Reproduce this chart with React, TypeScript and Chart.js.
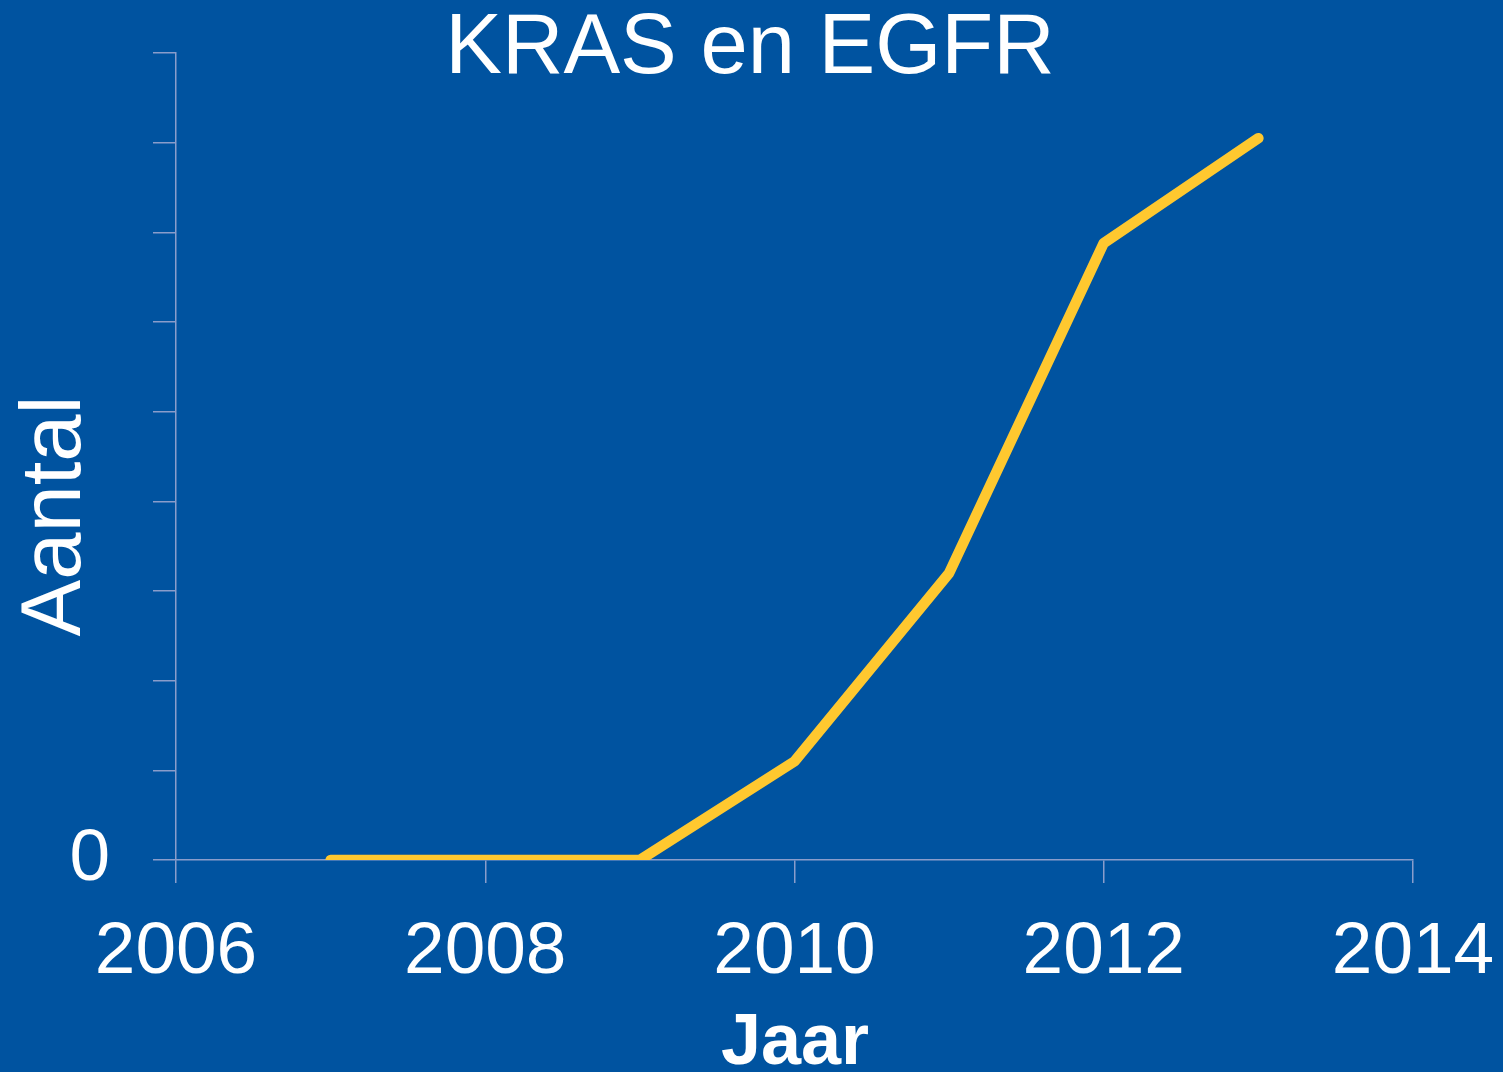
import React, { useEffect, useRef } from "react";
import { Chart, registerables } from "chart.js";

Chart.register(...registerables);

const years = [2007, 2008, 2009, 2010, 2011, 2012, 2013];
const counts = [0, 0, 0, 1.1, 3.2, 6.88, 8.05];
const xTickValues = [2006, 2008, 2010, 2012, 2014];
const yTickLabelShown = [0];

const titleText = "KRAS en EGFR";
const xTitleText = "Jaar";
const yTitleText = "Aantal";

const BG = "#0053A0";
const LINE = "#FFC82F";
const AXIS = "#8A9DCB";
const FONT = "'Liberation Sans', Arial, sans-serif";

const textPlugin = {
  id: "textPlugin",
  beforeDraw(chart: any) {
    const { ctx, width, height } = chart;
    ctx.save();
    ctx.fillStyle = BG;
    ctx.fillRect(0, 0, width, height);
    ctx.restore();
  },
  afterDraw(chart: any) {
    const { ctx } = chart;
    ctx.save();
    ctx.fillStyle = "#ffffff";
    ctx.textBaseline = "alphabetic";
    ctx.textAlign = "center";
    ctx.font = `85px ${FONT}`;
    ctx.fillText(titleText, 750, 73);
    ctx.font = `bold 72px ${FONT}`;
    ctx.fillText(xTitleText, 795, 1064);
    ctx.translate(80, 516);
    ctx.rotate(-Math.PI / 2);
    ctx.font = `85px ${FONT}`;
    ctx.fillText(yTitleText, 0, 0);
    ctx.restore();
  },
};

const zeroPadding = (scale: any) => {
  scale.paddingTop = 0;
  scale.paddingBottom = 0;
  scale.paddingLeft = 0;
  scale.paddingRight = 0;
};

export default function App() {
  const ref = useRef<HTMLCanvasElement>(null);
  useEffect(() => {
    document.body.style.margin = "0";
    document.body.style.background = BG;
    const canvas = ref.current!;
    const chart = new Chart(canvas, {
      type: "line",
      data: {
        datasets: [
          {
            data: years.map((y, i) => ({ x: y, y: counts[i] })),
            borderColor: LINE,
            borderWidth: 10.5,
            borderCapStyle: "round",
            borderJoinStyle: "round",
            pointRadius: 0,
            tension: 0,
            fill: false,
          },
        ],
      },
      plugins: [textPlugin],
      options: {
        animation: false,
        responsive: false,
        devicePixelRatio: 1,
        layout: { padding: { left: 0, right: 90, top: 53, bottom: 0 } },
        plugins: { legend: { display: false }, tooltip: { enabled: false }, title: { display: false } },
        scales: {
          x: {
            type: "linear",
            min: 2006,
            max: 2014,
            afterBuildTicks: (scale: any) => {
              scale.ticks = xTickValues.map((v) => ({ value: v }));
            },
            afterFit: (scale: any) => {
              scale.height = 212;
              zeroPadding(scale);
            },
            ticks: {
              color: "#ffffff",
              font: { family: FONT, size: 73 },
              padding: 26,
              maxRotation: 0,
              autoSkip: false,
              callback: (v: any) => String(v),
            },
            grid: { drawOnChartArea: false, drawTicks: true, tickLength: 23, color: AXIS, lineWidth: 1.5 },
            border: { display: true, color: AXIS, width: 1.5 },
          },
          y: {
            type: "linear",
            min: 0,
            max: 9,
            afterFit: (scale: any) => {
              scale.width = 176;
              zeroPadding(scale);
            },
            ticks: {
              stepSize: 1,
              color: "#ffffff",
              font: { family: FONT, size: 73 },
              padding: 43,
              autoSkip: false,
              callback: (v: any) => (yTickLabelShown.includes(v) ? String(v) : ""),
            },
            grid: { drawOnChartArea: false, drawTicks: true, tickLength: 23, color: AXIS, lineWidth: 1.5 },
            border: { display: true, color: AXIS, width: 1.5 },
          },
        },
      },
    } as any);
    return () => chart.destroy();
  }, []);
  return (
    <canvas
      ref={ref}
      width={1503}
      height={1072}
      style={{ position: "absolute", left: 0, top: 0, width: 1503, height: 1072, display: "block" }}
    />
  );
}
